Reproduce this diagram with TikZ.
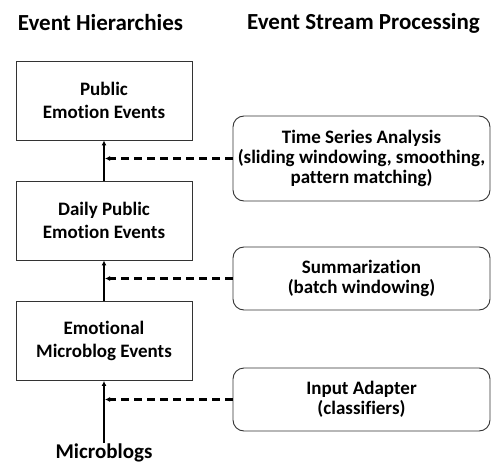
\documentclass[tikz,border=0pt]{standalone}
\usepackage{fontspec}
\setmainfont{Carlito}[Ligatures=NoCommon]
\usetikzlibrary{arrows.meta}

\tikzset{
  levelbox/.style={draw=black!80, line width=0.9pt, minimum width=176pt, minimum height=79pt,
    align=center, inner sep=0pt, font=\bfseries\fontsize{19}{23}\selectfont},
  procbox/.style={draw=black!80, line width=0.9pt, rounded corners=11pt, minimum width=257pt,
    align=center, inner sep=0pt, font=\bfseries\fontsize{19}{20}\selectfont},
  coltitle/.style={font=\bfseries\fontsize{23}{27}\selectfont, inner sep=0pt},
  flow/.style={line width=2.2pt, -{Latex[length=5pt,width=5pt]}},
  feed/.style={line width=2.2pt, dash pattern=on 8pt off 5pt, -{Latex[length=5pt,width=5pt]}, shorten >=1pt},
}

\begin{document}
\begin{tikzpicture}[x=1pt,y=-1pt]
        \useasboundingbox (0,0) rectangle (491,466);
        % column titles
        \node[coltitle] (hiertitle) at (100.5,23) {Event Hierarchies};
        \node[coltitle] (esptitle) at (363.5,23) {Event Stream Processing};
        % event hierarchy
        \node[levelbox] (public) at (104,100.5) {Public\\Emotion Events};
        \node[levelbox] (daily) at (104,220.5) {Daily Public\\Emotion Events};
        \node[levelbox] (micro) at (104,341) {Emotional\\Microblog Events};
        \node[font=\bfseries\fontsize{21}{25}\selectfont, inner sep=1pt] (blogs) at (104,453) {Microblogs};
        % processing steps
        \node[procbox, minimum height=85pt] (tsa) at (361.5,158.5) {Time Series Analysis\\(sliding windowing, smoothing,\\pattern matching)};
        \node[procbox, minimum height=63pt] (summ) at (361.5,278.5) {Summarization\\(batch windowing)};
        \node[procbox, minimum height=63pt] (adapter) at (361.5,399.5) {Input Adapter\\(classifiers)};
        % arrows
        \draw[flow] (blogs.north) -- (micro.south);
        \draw[flow] (micro.north) -- (daily.south);
        \draw[flow] (daily.north) -- (public.south);
        \draw[feed] (adapter.west) -- (adapter.west -| micro.south);
        \draw[feed] (summ.west) -- (summ.west -| daily.south);
        \draw[feed] (tsa.west) -- (tsa.west -| public.south);
\end{tikzpicture}
\end{document}
